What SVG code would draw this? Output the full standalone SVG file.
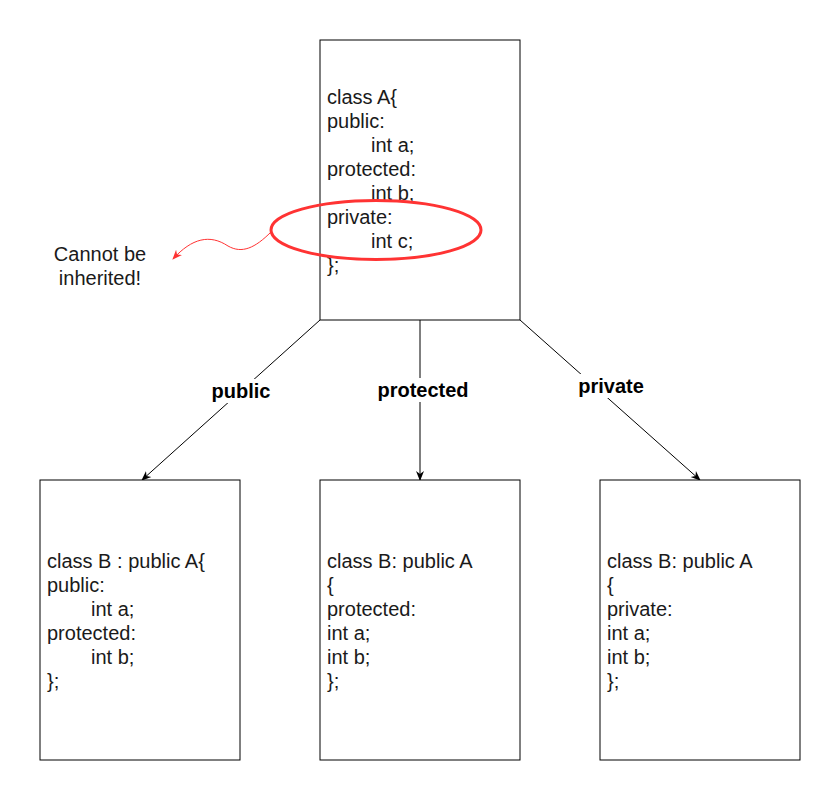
<svg xmlns="http://www.w3.org/2000/svg" width="832" height="802" viewBox="0 0 832 802">
<style>
.box{fill:#fff;stroke:#000;stroke-width:1}
.t{font-family:"Liberation Sans",Arial,sans-serif;font-size:20px;fill:#1a1a1a}
.lbl{font-family:"Liberation Sans",Arial,sans-serif;font-size:20px;font-weight:bold;fill:#000;text-anchor:middle}
.edge{stroke:#000;stroke-width:1;fill:none;marker-end:url(#ah)}
</style>
<defs>
<marker id="ah" viewBox="0 0 10 10" refX="9" refY="5" markerWidth="10" markerHeight="10" markerUnits="userSpaceOnUse" orient="auto">
<path d="M0,1 L10,5 L0,9 L3,5 Z" fill="#000"/>
</marker>
<marker id="ahr" viewBox="0 0 10 10" refX="9" refY="5" markerWidth="10" markerHeight="10" markerUnits="userSpaceOnUse" orient="auto">
<path d="M0,1 L10,5 L0,9 L3,5 Z" fill="#FF3333"/>
</marker>
</defs>
<rect width="832" height="802" fill="#fff"/>
<g id="connectors">
<line class="edge" x1="320" y1="320" x2="142" y2="480"/>
<line class="edge" x1="420" y1="320" x2="420" y2="480"/>
<line class="edge" x1="520" y1="320" x2="700" y2="480"/>
<rect x="210" y="379" width="63" height="24" fill="#fff"/>
<text class="lbl" x="241" y="398">public</text>
<rect x="377" y="378" width="93" height="24" fill="#fff"/>
<text class="lbl" x="423" y="397">protected</text>
<rect x="576" y="374" width="70" height="24" fill="#fff"/>
<text class="lbl" x="611" y="393">private</text>
</g>
<g id="classA">
<rect class="box" x="320" y="40" width="200" height="280"/>
<text class="t" x="327" y="104">class A{</text>
<text class="t" x="327" y="128">public:</text>
<text class="t" x="371" y="152">int a;</text>
<text class="t" x="327" y="176">protected:</text>
<text class="t" x="371" y="200">int b;</text>
<text class="t" x="327" y="224">private:</text>
<text class="t" x="371" y="248">int c;</text>
<text class="t" x="327" y="272">};</text>
</g>
<g id="highlight">
<ellipse cx="376" cy="230" rx="105" ry="29.5" fill="none" stroke="#FF3333" stroke-width="3"/>
<path d="M271,232 C255,248 242,254 228,246 C210,234 192,238 173,259" fill="none" stroke="#FF3333" stroke-width="1" marker-end="url(#ahr)"/>
</g>
<g id="note">
<text class="t" x="100" y="261" text-anchor="middle">Cannot be</text>
<text class="t" x="100" y="285" text-anchor="middle">inherited!</text>
</g>
<g id="classB_public">
<rect class="box" x="40" y="480" width="200" height="280"/>
<text class="t" x="47" y="568">class B : public A{</text>
<text class="t" x="47" y="592">public:</text>
<text class="t" x="91" y="616">int a;</text>
<text class="t" x="47" y="640">protected:</text>
<text class="t" x="91" y="664">int b;</text>
<text class="t" x="47" y="688">};</text>
</g>
<g id="classB_protected">
<rect class="box" x="320" y="480" width="200" height="280"/>
<text class="t" x="327" y="568">class B: public A</text>
<text class="t" x="327" y="592">{</text>
<text class="t" x="327" y="616">protected:</text>
<text class="t" x="327" y="640">int a;</text>
<text class="t" x="327" y="664">int b;</text>
<text class="t" x="327" y="688">};</text>
</g>
<g id="classB_private">
<rect class="box" x="600" y="480" width="200" height="280"/>
<text class="t" x="607" y="568">class B: public A</text>
<text class="t" x="607" y="592">{</text>
<text class="t" x="607" y="616">private:</text>
<text class="t" x="607" y="640">int a;</text>
<text class="t" x="607" y="664">int b;</text>
<text class="t" x="607" y="688">};</text>
</g>
</svg>
